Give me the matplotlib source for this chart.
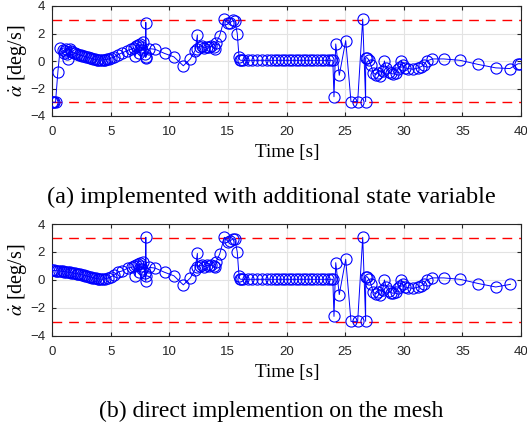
import matplotlib.pyplot as plt

# shared part of the trajectory (t > ~8 s)
t_mid = [8.3, 8.8, 9.6, 10.4, 11.2, 11.8, 12.2, 12.4, 12.4, 12.6, 12.8, 13.0, 13.2, 13.4, 13.6,
         13.8, 13.9, 14.0, 14.3, 14.7, 15.0, 15.2, 15.45, 15.6, 15.8, 15.95, 16.0, 16.1,
         16.3, 16.7, 17.1, 17.5, 17.9, 18.3, 18.7, 19.0, 19.3, 19.6, 19.9, 20.2, 20.5, 20.8,
         21.1, 21.4, 21.7, 22.0, 22.3, 22.6, 22.9, 23.2, 23.5, 23.8, 23.95,
         24.05, 24.2, 24.5, 25.05, 25.5, 26.07, 26.5, 26.75, 26.75, 26.85, 27.0, 27.2, 27.4,
         27.6, 27.8, 28.0, 28.2, 28.35, 28.5, 28.7, 28.9, 29.1, 29.3, 29.5, 29.7, 29.8,
         29.9, 30.1, 30.4, 30.8, 31.25, 31.5, 31.7, 31.95, 32.45, 33.4, 34.8, 36.35, 37.85]
v_mid = [0.9, 0.85, 0.55, 0.3, -0.35, 0.15, 0.75, 1.9, 0.9, 1.0, 1.1, 0.95, 1.05, 1.0, 1.1,
         1.0, 0.9, 1.3, 1.85, 3.05, 2.75, 2.8, 2.95, 2.9, 2.0, 0.3, 0.1, 0.05,
         0.05, 0.05, 0.05, 0.05, 0.05, 0.05, 0.05, 0.05, 0.05, 0.05, 0.05, 0.05, 0.05, 0.05,
         0.05, 0.05, 0.05, 0.05, 0.05, 0.05, 0.05, 0.05, 0.05, 0.05, 0.05,
         -2.6, 1.24, -1.04, 1.48, -2.96, -2.95, 3.05, -2.95, 0.2, 0.25, 0.1, -0.3, -0.85,
         -1.0, -0.85, -1.1, -0.7, 0.0, -0.5, -0.8, -0.9, -0.95, -0.85, -0.6, -0.4, 0.0,
         -0.3, -0.5, -0.55, -0.6, -0.5, -0.4, -0.3, 0.0, 0.15, 0.15, 0.05, -0.25, -0.5]

# (a) with additional state variable
t_a_start = [0.0, 0.1, 0.2, 0.3, 0.5, 0.7, 0.9, 1.0, 1.1, 1.2, 1.3, 1.4, 1.5, 1.6, 1.7, 1.85,
             2.0, 2.15, 2.3, 2.45, 2.6, 2.75, 2.9, 3.05, 3.2, 3.35, 3.5, 3.65, 3.8, 3.95,
             4.1, 4.25, 4.4, 4.55, 4.7, 4.85, 5.0, 5.3, 5.6, 6.0, 6.4, 6.7, 7.0, 7.1, 7.2,
             7.3, 7.4, 7.5, 7.6, 7.7, 7.8, 7.9, 8.0, 8.0, 8.0]
v_a_start = [-3.0, -3.0, -3.0, -3.0, -0.8, 0.95, 0.8, 0.6, 0.75, 0.85, 0.5, 0.15, 0.9, 0.7,
             0.65, 0.6, 0.55, 0.5, 0.45, 0.42, 0.38, 0.35, 0.3, 0.27, 0.22, 0.2, 0.15, 0.12,
             0.1, 0.08, 0.07, 0.07, 0.08, 0.1, 0.12, 0.15, 0.2, 0.3, 0.45, 0.6, 0.75, 0.85,
             0.95, 0.35, 1.1, 1.2, 0.6, 1.25, 1.0, 0.8, 1.4, 0.5, 0.25, 2.8, 0.3]
t_a_end = [39.05, 39.75, 39.95]
v_a_end = [-0.55, -0.2, -0.2]

# (b) direct implementation on the mesh
t_b_start = [0.0, 0.15, 0.3, 0.45, 0.6, 0.75, 0.9, 1.05, 1.2, 1.35, 1.5, 1.65, 1.8, 1.95,
             2.1, 2.25, 2.4, 2.55, 2.7, 2.85, 3.0, 3.15, 3.3, 3.45, 3.6, 3.75, 3.9, 4.05,
             4.2, 4.35, 4.5, 4.8, 5.0, 5.3, 5.65, 6.0, 6.5, 6.8, 7.0, 7.1, 7.2, 7.3, 7.4,
             7.5, 7.6, 7.7, 7.8, 7.9, 8.0, 8.0, 8.0]
v_b_start = [0.69, 0.68, 0.67, 0.66, 0.65, 0.63, 0.62, 0.6, 0.58, 0.56, 0.54, 0.52, 0.5,
             0.47, 0.45, 0.43, 0.4, 0.37, 0.34, 0.31, 0.28, 0.24, 0.21, 0.17, 0.14, 0.11,
             0.09, 0.07, 0.06, 0.06, 0.08, 0.15, 0.21, 0.35, 0.57, 0.65, 0.86, 0.9, 1.0,
             0.3, 1.1, 1.15, 0.6, 1.2, 1.0, 0.8, 1.3, 0.5, -0.1, 3.05, 0.3]
t_b_end = [39.1]
v_b_end = [-0.31]

limit = 3.0

plt.rcParams['font.family'] = 'Liberation Sans'
plt.rcParams['mathtext.fontset'] = 'stix'

fig = plt.figure(figsize=(5.27, 4.33), dpi=100)
W, H = 527.0, 433.0


def panel(rect, t, v, caption, cap_y, time_y, cap_size):
    x0, y0, x1, y1 = rect
    ax = fig.add_axes([x0 / W, 1 - y1 / H, (x1 - x0) / W, (y1 - y0) / H])
    ax.axhline(limit, color='red', ls=(0, (7, 5)), lw=1.0, zorder=1)
    ax.axhline(-limit, color='red', ls=(0, (7, 5)), lw=1.0, zorder=1)
    ax.plot(t, v, '-o', color='blue', mfc='none', ms=8, lw=0.7, mew=0.8, zorder=3)
    ax.set_xlim(0, 40)
    ax.set_ylim(-4, 4)
    ax.set_xticks(range(0, 41, 5))
    ax.set_yticks(range(-4, 5, 2))
    ax.grid(True, color='#e3e3e3', lw=0.8)
    ax.set_axisbelow(True)
    for s in ax.spines.values():
        s.set_color('#262626')
        s.set_linewidth(0.8)
    ax.tick_params(direction='in', top=True, right=True, labelsize=9.5,
                   colors='#262626', length=3)
    ax.tick_params(axis='x', pad=7)
    ax.tick_params(axis='y', pad=5)
    ax.set_ylabel(r'$\dot{\alpha}$ [deg/s]', family='Liberation Serif', fontsize=14.5, labelpad=1)
    fig.text(287 / W, 1 - time_y / H, 'Time [s]', family='Liberation Serif', fontsize=13.8,
             ha='center', va='center')
    fig.text(0.515, 1 - cap_y / H, caption, family='Liberation Serif', fontsize=cap_size,
             ha='center', va='center')
    return ax


panel((52, 6, 521, 116), t_a_start + t_mid + t_a_end, v_a_start + v_mid + v_a_end,
      '(a) implemented with additional state variable', 197, 153, 17.5)
panel((52, 224, 521, 336), t_b_start + t_mid + t_b_end, v_b_start + v_mid + v_b_end,
      '(b) direct implemention on the mesh', 411, 373, 17)

fig.savefig('out.png', dpi=100)
